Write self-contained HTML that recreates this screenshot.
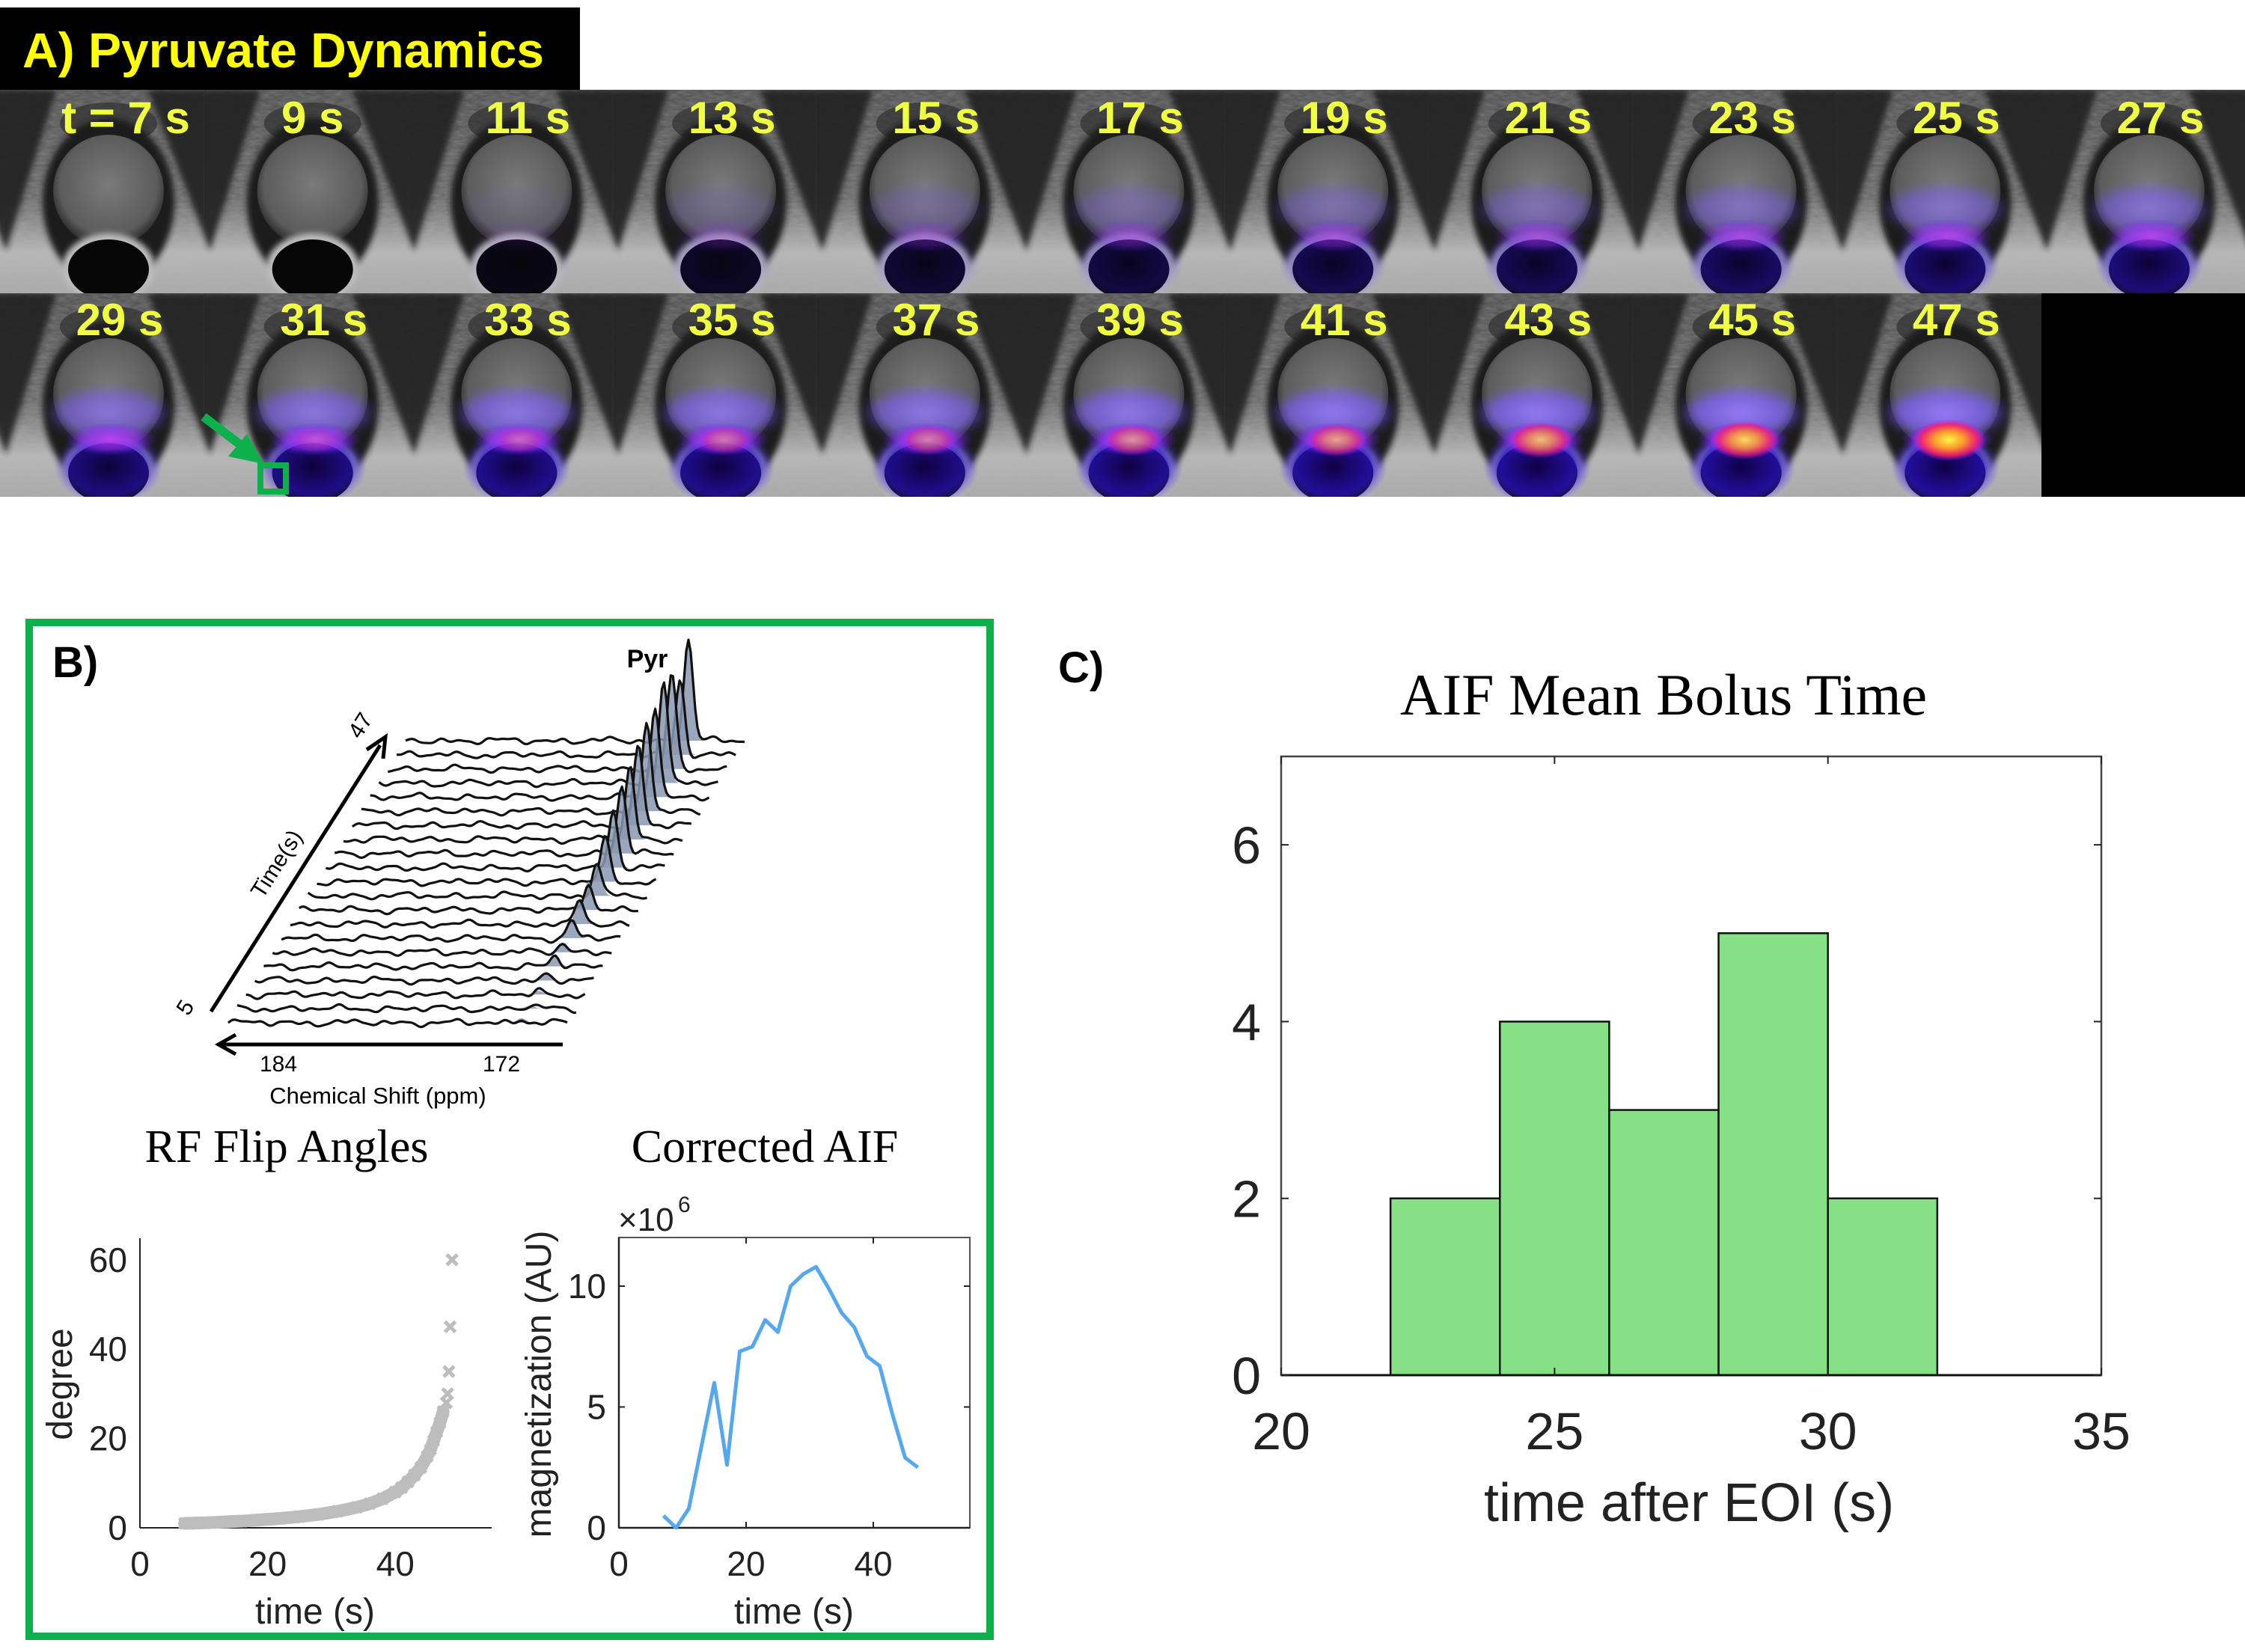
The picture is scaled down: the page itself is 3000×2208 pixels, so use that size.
<!DOCTYPE html>
<html><head><meta charset="utf-8">
<style>
html,body{margin:0;padding:0;background:#fff;}
svg{display:block;}
text{font-family:"Liberation Sans",sans-serif;}
.serif{font-family:"Liberation Serif",serif;}
</style></head>
<body>
<svg id="fig" width="3000" height="2208" viewBox="0 0 3000 2208" xmlns="http://www.w3.org/2000/svg">
<defs>
  <radialGradient id="lav" cx="50%" cy="50%" r="50%"><stop offset="0" stop-color="#9a7dff" stop-opacity="0.95"/><stop offset="0.7" stop-color="#7a5cff" stop-opacity="0.7"/><stop offset="1" stop-color="#6a50ff" stop-opacity="0"/></radialGradient>
  <radialGradient id="mag" cx="50%" cy="50%" r="50%"><stop offset="0" stop-color="#e040ff" stop-opacity="1"/><stop offset="0.6" stop-color="#a030ff" stop-opacity="0.8"/><stop offset="1" stop-color="#6020ff" stop-opacity="0"/></radialGradient>
  <radialGradient id="blu" cx="50%" cy="50%" r="50%"><stop offset="0" stop-color="#10004a" stop-opacity="0.9"/><stop offset="0.7" stop-color="#2a10c0" stop-opacity="0.8"/><stop offset="1" stop-color="#5030ff" stop-opacity="0"/></radialGradient>
  <radialGradient id="hot" cx="50%" cy="50%" r="50%"><stop offset="0" stop-color="#ffff40"/><stop offset="0.4" stop-color="#ffa020"/><stop offset="0.75" stop-color="#ff2060" stop-opacity="0.9"/><stop offset="1" stop-color="#c020ff" stop-opacity="0"/></radialGradient>
  <radialGradient id="pro" cx="50%" cy="45%" r="55%"><stop offset="0" stop-color="#7a7a7a"/><stop offset="0.8" stop-color="#5c5c5c"/><stop offset="1" stop-color="#2a2a2a"/></radialGradient>
  <linearGradient id="bgv" x1="0" y1="0" x2="0" y2="1"><stop offset="0" stop-color="#4a4a4a"/><stop offset="0.55" stop-color="#6a6a6a"/><stop offset="0.8" stop-color="#b8b8b8"/><stop offset="1" stop-color="#a8a8a8"/></linearGradient>
  <filter id="tex" x="0" y="0" width="100%" height="100%"><feTurbulence type="fractalNoise" baseFrequency="0.08 0.25" numOctaves="2" seed="3"/><feColorMatrix values="0 0 0 0 0.45  0 0 0 0 0.45  0 0 0 0 0.45  0 0 0 0.6 0"/></filter>
  <filter id="blur6"><feGaussianBlur stdDeviation="6"/></filter>
  <filter id="blur4"><feGaussianBlur stdDeviation="4"/></filter>
  <clipPath id="tileclip"><rect x="0" y="0" width="273.7" height="272"/></clipPath>
</defs>

<g id="panelA">
  <rect x="0" y="120" width="3000" height="544" fill="#000"/>
  <g id="tiles"></g>
  <g id="tilelabels"></g>
  <rect x="0" y="10" width="775" height="110" fill="#000"/>
  <text x="30" y="90" font-size="66" font-weight="bold" fill="#ffff00">A) Pyruvate Dynamics</text>
  <g>
    <line x1="272" y1="557" x2="335" y2="605" stroke="#0db04b" stroke-width="12"/>
    <polygon points="352,620 305,610 330,580" fill="#0db04b"/>
    <rect x="348" y="622" width="34" height="35" fill="none" stroke="#0db04b" stroke-width="8"/>
  </g>
</g>

<g id="panelB">
  <rect x="39" y="832" width="1284" height="1355" fill="none" stroke="#0db04b" stroke-width="10"/>
  <text x="70" y="905" font-size="58" font-weight="bold">B)</text>
  <g id="waterfall"></g>
  <g id="rf"></g>
  <g id="aif"></g>
</g>

<g id="panelC">
  <text x="1414" y="912" font-size="58" font-weight="bold">C)</text>
  <text class="serif" x="2223" y="955" font-size="78" text-anchor="middle">AIF Mean Bolus Time</text>
  <g id="hist"></g>
</g>
</svg>

<script>
const NS = "http://www.w3.org/2000/svg";
function mk(tag, attrs, parent){const e=document.createElementNS(NS,tag);for(const k in attrs)e.setAttribute(k,attrs[k]);if(parent)parent.appendChild(e);return e;}

/* ---------- Panel A data ---------- */
const frameTimes = [7,9,11,13,15,17,19,21,23,25,27,29,31,33,35,37,39,41,43,45,47];
const frameSignal = [0,0,0.1,0.25,0.35,0.45,0.55,0.6,0.7,0.8,0.85,0.9,0.95,1,1,1,1.05,1.1,1.15,1.25,1.35];
const frameHot = [0,0,0,0,0,0,0,0,0,0,0,0,0.1,0.2,0.3,0.35,0.45,0.55,0.7,0.85,1];

const tiles = document.getElementById('tiles');
const tlabels = document.getElementById('tilelabels');
const TW = 272.7, TH = 272;
frameTimes.forEach((t,i)=>{
  const col = i % 11, row = Math.floor(i/11);
  const x = col*TW, y = 120 + row*TH;
  const outer = mk('g',{transform:`translate(${x},${y})`},tiles);
  
  
  const g = mk('g',{'clip-path':'url(#tileclip)'},outer);
  mk('rect',{x:0,y:0,width:TW+1,height:TH,fill:'url(#bgv)'},g);
  mk('rect',{x:0,y:0,width:TW+1,height:TH,filter:'url(#tex)',opacity:0.7},g);
  // dark muscle V shapes at tile edges
  mk('polygon',{points:`-75,0 75,0 8,215`,fill:'#222',opacity:0.92,filter:'url(#blur4)'},g);
  mk('polygon',{points:`${TW-75},0 ${TW+75},0 ${TW+8},215`,fill:'#222',opacity:0.92,filter:'url(#blur4)'},g);
  mk('ellipse',{cx:145,cy:45,rx:65,ry:28,fill:'#303030',opacity:0.7},g);
  // prostate
  mk('ellipse',{cx:145,cy:150,rx:88,ry:112,fill:'#1c1c1c',filter:'url(#blur4)'},g);
  mk('ellipse',{cx:145,cy:135,rx:74,ry:75,fill:'url(#pro)'},g);
  // rectum
  mk('ellipse',{cx:145,cy:238,rx:62,ry:46,fill:'#bdbdbd',filter:'url(#blur4)'},g);
  mk('ellipse',{cx:145,cy:240,rx:54,ry:40,fill:'#060606'},g);
  const s = frameSignal[i], h = frameHot[i];
  if(s>0){
    mk('ellipse',{cx:145,cy:160,rx:85,ry:36,fill:'url(#lav)',opacity:Math.min(1,s*0.85),filter:'url(#blur6)'},g);
    mk('ellipse',{cx:145,cy:232,rx:72,ry:52,fill:'url(#blu)',opacity:Math.min(1,s*0.9)},g);
    mk('ellipse',{cx:148,cy:195,rx:62,ry:22,fill:'url(#mag)',opacity:Math.min(1,s*0.8)},g);
  }
  if(h>0){
    mk('ellipse',{cx:150,cy:196,rx:28+22*h,ry:16+12*h,fill:'url(#hot)',opacity:h*0.95},g);
  }
  const lbl = mk('text',{x:x+(i===0?168:(i===1?145:160)),y:y+(row===0?58:56),'font-size':60,'font-weight':'bold',fill:'#f0ff40','text-anchor':'middle'},tlabels);
  
  
  lbl.textContent = (i===0?'t = ':'')+t+' s';
});

/* ---------- Waterfall spectra ---------- */
const peakHeights = [6,4,5,8,13,13,23,32,38,44,59,75,90,97,108,118,123,135,125,100,135];
const wf = document.getElementById('waterfall');
const W0x=305, W0y=1367, Wdx=11.85, Wdy=-18.85, Wlen=455;
for(let r=peakHeights.length-1;r>=0;r--){
  const x0=W0x+r*Wdx, y0=W0y+r*Wdy, pc=392-r*0.7, ph=peakHeights[r], sg=6;
  let d='';
  for(let k=0;k<=Wlen;k+=3){
    const nz = 2.2*Math.sin(k*0.09+r*1.7)+1.8*Math.sin(k*0.19+r*0.9)+1.2*Math.sin(k*0.045+r*2.3)+0.9*Math.sin(k*0.31+r*3.1);
    const pk = ph*Math.exp(-((k-pc)*(k-pc))/(2*sg*sg));
    const px=x0+k, py=y0-nz-pk;
    d += (k===0?'M':'L')+px.toFixed(1)+','+py.toFixed(1);
  }
  let fd='M'+(x0+pc-20)+','+y0;
  for(let k=pc-20;k<=pc+20;k+=2){fd+='L'+(x0+k).toFixed(1)+','+(y0-ph*Math.exp(-((k-pc)*(k-pc))/(2*sg*sg))).toFixed(1);}
  fd+='L'+(x0+pc+20)+','+y0+'Z';
  const f=mk('path',{d:fd,fill:'#8a98b0',opacity:0.85},wf);
  
  
  const p=mk('path',{d:d,fill:'none',stroke:'#111','stroke-width':3.2,'stroke-linejoin':'round'},wf);
  
  
}
(function(){
  const a1=mk('line',{x1:282,y1:1352,x2:508,y2:996,stroke:'#000','stroke-width':5},wf);
  
  mk('polyline',{points:'490,1002 515,985 512,1014',fill:'none',stroke:'#000','stroke-width':5},wf);
  const a2=mk('line',{x1:752,y1:1396,x2:295,y2:1396,stroke:'#000','stroke-width':5},wf);
  
  mk('polyline',{points:'315,1383 292,1396 315,1409',fill:'none',stroke:'#000','stroke-width':5},wf);
  const txt=[['184',372,1432,30,'middle',0,'normal'],['172',670,1432,30,'middle',0,'normal'],['Chemical Shift (ppm)',505,1475,31,'middle',0,'normal'],['Pyr',865,892,34,'middle',0,'bold']];
  txt.forEach(a=>{const e=mk('text',{x:a[1],y:a[2],'font-size':a[3],'text-anchor':a[4],'font-weight':a[6]},wf);e.textContent=a[0];});
  const rot=[['47',490,975],['Time(s)',378,1160],['5',256,1352]];
  rot.forEach(a=>{const e=mk('text',{x:a[1],y:a[2],'font-size':30,'text-anchor':'middle',transform:`rotate(-57.5 ${a[1]} ${a[2]})`},wf);e.textContent=a[0];});
})();

/* ---------- RF flip angles ---------- */
const rfTimes = [7,10,13,16,19,22,25,28,31,34,36,38,40,41,42,43,44,45,45.5,46,46.5,47,47.5,48,48.2,48.4,48.6,48.9];
const rfAngles = [1,1.1,1.3,1.5,1.8,2.1,2.5,3,3.7,4.6,5.4,6.5,8,9,10.3,11.8,13.5,16,17.5,19.5,21.5,23.5,26,28,30,35,45,60];
const rfXTicks=[0,20,40], rfYTicks=[0,20,40,60];
(function(){
  const g=document.getElementById('rf');
  const X=v=>187+v*8.53, Y=v=>2042-v*5.97;
  mk('line',{x1:187,y1:1655,x2:187,y2:2042,stroke:'#222','stroke-width':2},g);
  mk('line',{x1:187,y1:2042,x2:657,y2:2042,stroke:'#222','stroke-width':2},g);
  let d='';
  rfTimes.forEach((t,i)=>{ if(rfAngles[i]<=26) d+=(d?'L':'M')+X(t)+','+Y(rfAngles[i]); });
  const band=mk('path',{d:d,fill:'none',stroke:'#bdbdbd','stroke-width':17,'stroke-linecap':'round','stroke-linejoin':'round'},g);
  
  rfTimes.forEach((t,i)=>{
    const cx=X(t), cy=Y(rfAngles[i]), s=7;
    const m=mk('path',{d:`M${cx-s},${cy-s}L${cx+s},${cy+s}M${cx-s},${cy+s}L${cx+s},${cy-s}`,stroke:'#bdbdbd','stroke-width':5},g);
    
  });
  rfXTicks.forEach(v=>{const e=mk('text',{x:X(v),y:2106,'font-size':46,'text-anchor':'middle',fill:'#222'},g);e.textContent=v;});
  rfYTicks.forEach(v=>{const e=mk('text',{x:170,y:Y(v)+16,'font-size':46,'text-anchor':'end',fill:'#222'},g);e.textContent=v;});
  let e=mk('text',{x:421,y:2170,'font-size':48,'text-anchor':'middle',fill:'#222'},g);e.textContent='time (s)';
  e=mk('text',{x:96,y:1850,'font-size':48,'text-anchor':'middle',fill:'#222',transform:'rotate(-90 96 1850)'},g);e.textContent='degree';
  e=mk('text',{x:383,y:1553,'font-size':62,'text-anchor':'middle',class:'serif'},g);e.textContent='RF Flip Angles';
})();

/* ---------- Corrected AIF ---------- */
const aifTimes = [7,9,11,13,15,17,19,21,23,25,27,29,31,33,35,37,39,41,43,45,47];
const aifValues = [0.5,0,0.8,3.4,6.0,2.6,7.3,7.5,8.6,8.1,10.0,10.5,10.8,9.9,8.9,8.3,7.1,6.7,4.7,2.9,2.5];
const aifXTicks=[0,20,40], aifYTicks=[0,5,10];
(function(){
  const g=document.getElementById('aif');
  const L=827,R=1296,T=1654,B=2042;
  const X=v=>L+v*8.5, Y=v=>B-v*32.3;
  mk('rect',{x:L,y:T,width:R-L,height:B-T,fill:'none',stroke:'#555','stroke-width':2},g);
  mk('line',{x1:L,y1:B,x2:R,y2:B,stroke:'#222','stroke-width':2.5},g);
  mk('line',{x1:L,y1:T,x2:L,y2:B,stroke:'#222','stroke-width':2.5},g);
  aifXTicks.forEach(v=>{mk('line',{x1:X(v),y1:B,x2:X(v),y2:B-8,stroke:'#222','stroke-width':2},g);mk('line',{x1:X(v),y1:T,x2:X(v),y2:T+8,stroke:'#222','stroke-width':2},g);
    const e=mk('text',{x:X(v),y:2106,'font-size':46,'text-anchor':'middle',fill:'#222'},g);e.textContent=v;});
  aifYTicks.forEach(v=>{mk('line',{x1:L,y1:Y(v),x2:L+8,y2:Y(v),stroke:'#222','stroke-width':2},g);mk('line',{x1:R,y1:Y(v),x2:R-8,y2:Y(v),stroke:'#222','stroke-width':2},g);
    const e=mk('text',{x:810,y:Y(v)+16,'font-size':46,'text-anchor':'end',fill:'#222'},g);e.textContent=v;});
  let d='';aifTimes.forEach((t,i)=>{d+=(i?'L':'M')+X(t).toFixed(1)+','+Y(aifValues[i]).toFixed(1);});
  const ln=mk('path',{d:d,fill:'none',stroke:'#55a8f0','stroke-width':5,'stroke-linejoin':'round'},g);
  
  let e=mk('text',{x:826,y:1645,'font-size':44,fill:'#222'},g);e.textContent='×10';
  e=mk('text',{x:906,y:1620,'font-size':30,fill:'#222'},g);e.textContent='6';
  e=mk('text',{x:1061,y:2170,'font-size':48,'text-anchor':'middle',fill:'#222'},g);e.textContent='time (s)';
  e=mk('text',{x:736,y:1850,'font-size':48,'text-anchor':'middle',fill:'#222',transform:'rotate(-90 736 1850)'},g);e.textContent='magnetization (AU)';
  e=mk('text',{x:1022,y:1553,'font-size':62,'text-anchor':'middle',class:'serif'},g);e.textContent='Corrected AIF';
})();

/* ---------- Histogram ---------- */
const binEdges = [22,24,26,28,30,32];
const binCounts = [2,4,3,5,2];
const histXTicks = [20,25,30,35];
const histYTicks = [0,2,4,6];
(function(){
  const g=document.getElementById('hist');
  const L=1712,R=2808,T=1011,B=1838;
  const X=v=>L+(v-20)*(R-L)/15, Y=v=>B-v*(B-T)/7;
  mk('rect',{x:L,y:T,width:R-L,height:B-T,fill:'none',stroke:'#444','stroke-width':2.5},g);
  binCounts.forEach((c,i)=>{
    const b=mk('rect',{x:X(binEdges[i]),y:Y(c),width:X(binEdges[i+1])-X(binEdges[i]),height:B-Y(c),fill:'#86e086',stroke:'#111','stroke-width':2.5},g);
    
  });
  mk('line',{x1:L,y1:B,x2:R,y2:B,stroke:'#111','stroke-width':3},g);
  histXTicks.forEach(v=>{mk('line',{x1:X(v),y1:B,x2:X(v),y2:B-10,stroke:'#222','stroke-width':2},g);mk('line',{x1:X(v),y1:T,x2:X(v),y2:T+10,stroke:'#222','stroke-width':2},g);
    const e=mk('text',{x:X(v),y:1937,'font-size':70,'text-anchor':'middle',fill:'#222'},g);e.textContent=v;});
  histYTicks.forEach(v=>{mk('line',{x1:L,y1:Y(v),x2:L+10,y2:Y(v),stroke:'#222','stroke-width':2},g);mk('line',{x1:R,y1:Y(v),x2:R-10,y2:Y(v),stroke:'#222','stroke-width':2},g);
    const e=mk('text',{x:1685,y:Y(v)+25,'font-size':70,'text-anchor':'end',fill:'#222'},g);e.textContent=v;});
  const e=mk('text',{x:2257,y:2033,'font-size':72,'text-anchor':'middle',fill:'#222'},g);e.textContent='time after EOI (s)';
})();
</script>
</body></html>
